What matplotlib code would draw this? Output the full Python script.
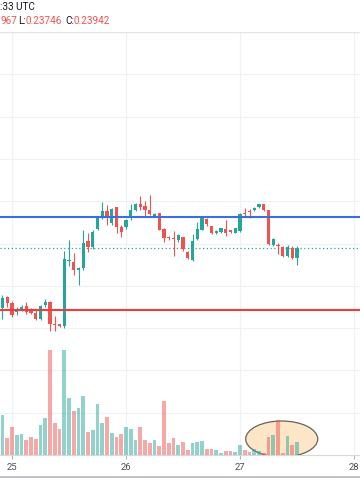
# candles_volume.py
# -*- coding: utf-8 -*-

import numpy as np
import matplotlib.pyplot as plt
from matplotlib.patches import Ellipse
from matplotlib.lines import Line2D

# hourly bars, hours counted from day 25 00:00 UTC
hours = list(range(-3, 61))

opens = [0.23240, 0.23233, 0.23366, 0.23297, 0.23186, 0.23215, 0.23258, 0.23215,
         0.23179, 0.23108, 0.23269, 0.23312, 0.23050, 0.23043, 0.23029, 0.23789,
         0.23781, 0.23681, 0.23706, 0.24029, 0.23961, 0.24172, 0.24301, 0.24380,
         0.24237, 0.24427, 0.24190, 0.24190, 0.24308, 0.24398, 0.24470, 0.24441,
         0.24391, 0.24319, 0.24355, 0.24165, 0.24075, 0.24065, 0.24039, 0.24075,
         0.23896, 0.23806, 0.24057, 0.24165, 0.24290, 0.24201, 0.24122, 0.24140,
         0.24165, 0.24154, 0.24129, 0.24147, 0.24362, 0.24380, 0.24398, 0.24427,
         0.24459, 0.24391, 0.23979, 0.23986, 0.23961, 0.23849, 0.23950, 0.23824]
highs = [0.23360, 0.23394, 0.23384, 0.23323, 0.23251, 0.23269, 0.23305, 0.23233,
         0.23215, 0.23269, 0.23348, 0.23323, 0.23143, 0.23054, 0.23914, 0.24047,
         0.23889, 0.23724, 0.24165, 0.24129, 0.24165, 0.24319, 0.24487, 0.24452,
         0.24416, 0.24434, 0.24219, 0.24290, 0.24470, 0.24477, 0.24559, 0.24505,
         0.24577, 0.24362, 0.24362, 0.24183, 0.24093, 0.24147, 0.24118, 0.24082,
         0.23914, 0.24111, 0.24254, 0.24326, 0.24298, 0.24212, 0.24165, 0.24183,
         0.24272, 0.24165, 0.24183, 0.24362, 0.24416, 0.24405, 0.24427, 0.24470,
         0.24462, 0.24398, 0.24065, 0.24004, 0.23968, 0.23986, 0.23968, 0.23968]
lows = [0.23200, 0.23108, 0.23244, 0.23136, 0.23151, 0.23197, 0.23161, 0.23172,
        0.23090, 0.23100, 0.23251, 0.22964, 0.22964, 0.23018, 0.23007, 0.23735,
        0.23627, 0.23509, 0.23681, 0.23896, 0.23932, 0.24161, 0.24290, 0.24219,
        0.24219, 0.24129, 0.24075, 0.24176, 0.24272, 0.24380, 0.24398, 0.24326,
        0.24333, 0.24308, 0.24154, 0.24022, 0.24047, 0.23849, 0.24022, 0.23914,
        0.23817, 0.23796, 0.24039, 0.24154, 0.24212, 0.24111, 0.24111, 0.24129,
        0.24093, 0.24129, 0.24122, 0.24140, 0.24326, 0.24301, 0.24387, 0.24416,
        0.24380, 0.23986, 0.23968, 0.23878, 0.23842, 0.23842, 0.23817, 0.23746]
closes = [0.23330, 0.23348, 0.23297, 0.23151, 0.23208, 0.23251, 0.23186, 0.23179,
          0.23108, 0.23258, 0.23312, 0.23043, 0.23036, 0.23029, 0.23814, 0.23806,
          0.23681, 0.23710, 0.24004, 0.23961, 0.24136, 0.24301, 0.24380, 0.24319,
          0.24405, 0.24190, 0.24140, 0.24280, 0.24398, 0.24462, 0.24427, 0.24398,
          0.24344, 0.24348, 0.24165, 0.24068, 0.24061, 0.24054, 0.24104, 0.23939,
          0.23824, 0.24029, 0.24165, 0.24298, 0.24226, 0.24122, 0.24147, 0.24176,
          0.24129, 0.24140, 0.24176, 0.24344, 0.24348, 0.24369, 0.24416, 0.24459,
          0.24391, 0.23996, 0.24047, 0.23975, 0.23849, 0.23961, 0.23824, 0.23942]
volumes = [320, 400, 170, 280, 200, 210, 150, 180, 160, 300, 370, 1050, 320, 260,
           1050, 570, 440, 470, 590, 230, 250, 510, 320, 380, 220, 180, 210, 280,
           260, 150, 280, 150, 120, 150, 90, 540, 120, 170, 100, 130, 50, 117,
           127, 140, 57, 63, 53, 23, 43, 40, 33, 97, 47, 30, 57, 43, 17, 177,
           197, 350, 23, 190, 100, 133]

resistance = 0.24312
support = 0.23215
day_ticks = [0, 24, 48, 72]
day_labels = ['25', '26', '27', '28']

GREEN = '#26a69a'
RED = '#ef5350'


def plot_chart():
    plt.rcParams['font.family'] = ['Roboto', 'DejaVu Sans']

    fig = plt.figure(figsize=(3.6, 5.04), dpi=100)
    W, H = 360.0, 504.0
    top_px, bot_px = 32.0, 455.0
    rect = [0, 1 - bot_px / H, 1, (bot_px - top_px) / H]

    ax = fig.add_axes(rect)
    axv = fig.add_axes(rect, sharex=ax)
    axv.set_facecolor('none')

    h = np.array(hours, dtype=float)
    o = np.array(opens)
    c = np.array(closes)
    up = c >= o
    colors = np.where(up, GREEN, RED)

    # candles
    ax.vlines(h, lows, highs, colors=colors, lw=0.8, zorder=3)
    ax.bar(h, np.abs(c - o) + 0.00002, bottom=np.minimum(o, c), width=0.7,
           color=colors, zorder=4)

    ax.axhline(resistance, color='#3b6fdc', lw=1.5, zorder=5)
    ax.axhline(support, color='#f03c3c', lw=1.5, zorder=5)
    ax.axhline(closes[-1], color=GREEN, lw=0.9, ls=(0, (1, 2)), zorder=2)

    # price pane layout
    ppx = 0.005 / 46.5
    ax.set_ylim(0.240 - (bot_px - 237) * ppx, 0.240 + (237 - top_px) * ppx)
    ax.set_xlim(-12 / 4.75, (W - 12) / 4.75)
    ax.set_yticks(np.arange(0.215, 0.265, 0.005))
    ax.tick_params(axis='y', length=0, labelleft=False)
    ax.set_xticks(day_ticks)
    ax.set_xticklabels(day_labels)
    ax.tick_params(axis='x', length=3, color='#b2b5be', labelsize=6.8,
                   labelcolor='#4a4e59', pad=3)
    ax.grid(True, color='#eef1f7', lw=0.9, zorder=0)
    for s in ['left', 'right']:
        ax.spines[s].set_visible(False)
    ax.spines['top'].set_color('#e0e3eb')
    ax.spines['bottom'].set_color('#d6d8de')

    # volume overlay
    vcol = np.where(up, GREEN, RED)
    axv.add_patch(Ellipse(((281.7 - 12) / 4.75, 160), 72 / 4.75, 360,
                          facecolor='#fde5c8', edgecolor='#6b6257', lw=0.9, zorder=1))
    axv.bar(h, volumes, width=0.74, color=vcol, alpha=0.5, zorder=2)
    axv.set_ylim(0, (bot_px - top_px) * 10)
    axv.axis('off')

    # header (cropped legend)
    fs = 7.2
    fig.text(0, 1 - 6.5 / H, ':33 UTC', color='#131722', fontsize=fs, va='center')
    y2 = 1 - 21.5 / H
    fig.text(0.5 / W, y2, '967', color=RED, fontsize=fs, va='center')
    fig.text(18 / W, y2, 'L:', color='#131722', fontsize=fs, va='center')
    fig.text(26 / W, y2, f'{lows[-1]:.5f}', color=RED, fontsize=fs, va='center')
    fig.text(65 / W, y2, 'C:', color='#131722', fontsize=fs, va='center')
    fig.text(73.5 / W, y2, f'{closes[-1]:.5f}', color=RED, fontsize=fs, va='center')

    # bottom border of the time scale
    fig.add_artist(Line2D([0, 1], [1 - 476.5 / H] * 2, color='#b8bbc2', lw=1.3))

    fig.savefig('out.png', dpi=100)


if __name__ == '__main__':
    plot_chart()
